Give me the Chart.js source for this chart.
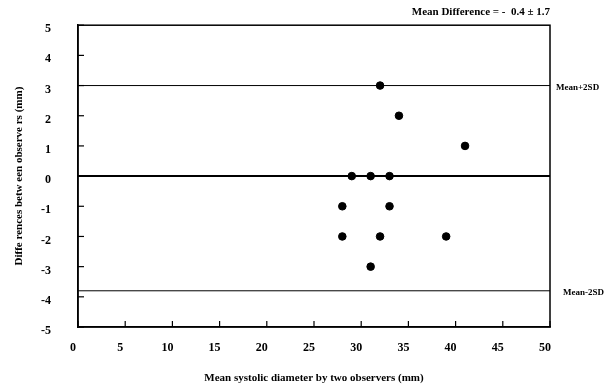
<!DOCTYPE html>
<html>
<head>
<meta charset="utf-8">
<script src="https://cdn.jsdelivr.net/npm/chart.js@4"></script>
<style>
  html, body { margin: 0; padding: 0; background: #fff; }
  #wrap { width: 608px; height: 389px; }
</style>
</head>
<body>
<div id="wrap"><canvas id="graph"></canvas></div>
<script>
// données
const meanDiam = [32, 34, 41, 29, 31, 33, 28, 33, 28, 32, 39, 31];
const diffObs = [3, 2, 1, 0, 0, 0, -1, -1, -2, -2, -2, -3];
const limitLabels = ["", "Mean+2SD", "Mean-2SD"];
const limitValues = [0, 3.0, -3.8];
const xRange = [0, 50];
const yRange = [-5, 5];

const serif = "'Liberation Serif', 'Times New Roman', serif";

// lignes horizontales (moyenne et limites)
const limitSets = limitValues.map((v, i) => ({
    type: "line",
    label: limitLabels[i] || "Mean",
    data: xRange.map(x => ({ x: x, y: v })),
    borderColor: "#000",
    borderWidth: i === 0 ? 2 : 1,
    pointRadius: 0,
    fill: false
}));

// cadre, graduations internes et étiquettes des limites
const decorPlugin = {
    id: "decor",
    afterDatasetsDraw(chart) {
        const { ctx, chartArea, scales } = chart;
        ctx.save();
        ctx.strokeStyle = "#000";
        ctx.lineWidth = 1.5;
        ctx.strokeRect(chartArea.left, chartArea.top, chartArea.right - chartArea.left, chartArea.bottom - chartArea.top);
        ctx.lineWidth = 1.2;
        scales.y.ticks.forEach(t => {
            const py = scales.y.getPixelForValue(t.value);
            ctx.beginPath();
            ctx.moveTo(chartArea.left, py);
            ctx.lineTo(chartArea.left + 6, py);
            ctx.stroke();
        });
        scales.x.ticks.forEach(t => {
            const px = scales.x.getPixelForValue(t.value);
            ctx.beginPath();
            ctx.moveTo(px, chartArea.bottom);
            ctx.lineTo(px, chartArea.bottom - 6);
            ctx.stroke();
        });
        ctx.fillStyle = "#000";
        ctx.font = "bold 9px " + serif;
        ctx.textBaseline = "middle";
        limitValues.forEach((v, i) => {
            if (!limitLabels[i]) return;
            const py = scales.y.getPixelForValue(v);
            ctx.fillText(limitLabels[i], chartArea.right + (v > 0 ? 6 : 13), py + 2);
        });
        ctx.restore();
    }
};

const graph = document.getElementById("graph").getContext("2d");
new Chart(graph, {
    type: "scatter",
    data: {
        datasets: [{
            label: "Différences",
            data: meanDiam.map((x, i) => ({ x: x, y: diffObs[i] })),
            backgroundColor: "#000",
            borderColor: "#000",
            pointRadius: 3.8,
            pointHoverRadius: 3.8
        }].concat(limitSets)
    },
    options: {
        responsive: true,
        maintainAspectRatio: false,
        animation: false,
        layout: { padding: { left: 0, right: 58, top: 0, bottom: 0 } },
        plugins: {
            legend: { display: false },
            tooltip: { enabled: false },
            title: {
                display: true,
                text: "Mean Difference = -  0.4 \u00b1 1.7",
                align: "end",
                color: "#000",
                font: { family: serif, size: 11, weight: "bold", lineHeight: 1.2 },
                padding: { top: 6, bottom: 6 }
            }
        },
        scales: {
            x: {
                type: "linear",
                min: xRange[0],
                max: xRange[1],
                grid: { display: false, drawTicks: false },
                border: { display: true, color: "#000", width: 1.5 },
                ticks: {
                    stepSize: 5,
                    padding: 14,
                    labelOffset: -5,
                    color: "#000",
                    font: { family: serif, size: 12, weight: "bold" }
                },
                title: {
                    display: true,
                    text: "Mean systolic diameter by two observers (mm)",
                    color: "#000",
                    font: { family: serif, size: 11, weight: "bold" },
                    padding: { top: 0, bottom: 4 }
                },
                afterFit: scale => {
                    scale.height = 62;
                    scale.paddingLeft = 0;
                    scale.paddingRight = 0;
                }
            },
            y: {
                type: "linear",
                min: yRange[0],
                max: yRange[1],
                grid: { display: false, drawTicks: false },
                border: { display: true, color: "#000", width: 1.5 },
                ticks: {
                    stepSize: 1,
                    padding: 27,
                    labelOffset: 4,
                    color: "#000",
                    font: { family: serif, size: 12, weight: "bold" }
                },
                title: {
                    display: true,
                    text: "Diffe rences betw een observe rs (mm)",
                    color: "#000",
                    font: { family: serif, size: 11, weight: "bold" },
                    padding: { top: 13, bottom: 0 }
                },
                afterFit: scale => {
                    scale.width = 78;
                    scale.paddingTop = 0;
                    scale.paddingBottom = 0;
                }
            }
        }
    },
    plugins: [decorPlugin]
});
</script>
</body>
</html>
